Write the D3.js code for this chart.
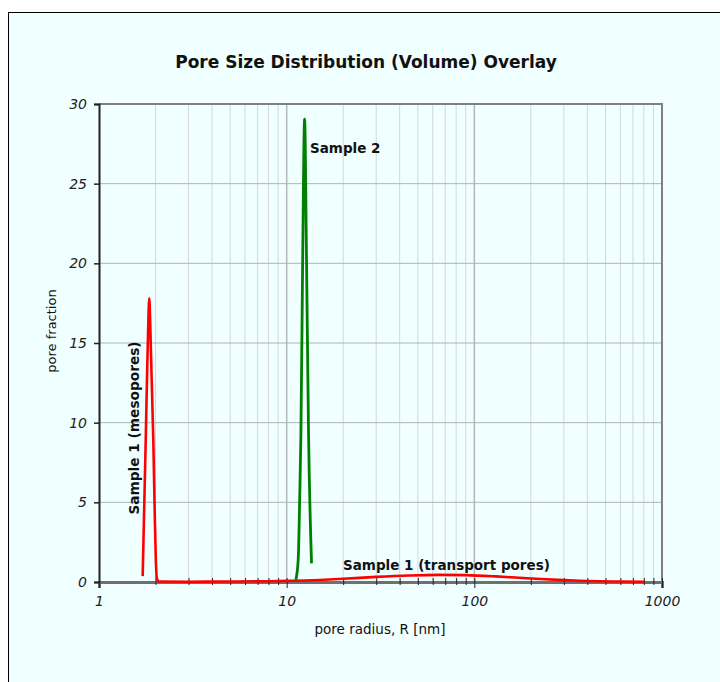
<!DOCTYPE html>
<html>
<head>
<meta charset="utf-8">
<script src="https://cdn.jsdelivr.net/npm/d3@7"></script>
<style>
body { margin: 0; background: #ffffff; }
text { font-family: "DejaVu Sans", Verdana, sans-serif; }
</style>
</head>
<body>
<div id="chart"></div>
<script>
// pore radius [nm] and pore fraction
var sample1R = [1.709, 1.74, 1.774, 1.80, 1.825, 1.853, 1.875, 1.90, 1.947, 1.98, 2.007, 2.037, 2.09, 3, 5, 8, 10, 15, 20, 30, 45, 65, 90, 130, 200, 300, 400, 600, 800];
var sample1V = [0.37, 4.5, 8.9, 12.5, 15.6, 17.8, 16.2, 13.5, 8.9, 4.5, 1.5, 0.2, 0.03, 0.02, 0.03, 0.05, 0.07, 0.13, 0.2, 0.32, 0.41, 0.45, 0.43, 0.35, 0.22, 0.12, 0.06, 0.03, 0.02];
var sample2R = [11.19, 11.52, 11.73, 11.91, 12.16, 12.46, 12.77, 13.08, 13.57];
var sample2V = [0.12, 1.4, 5.15, 9.3, 19.8, 29.05, 19.8, 9.3, 1.17];

var xMajor = [1, 10, 100, 1000];
var xMinor = [2, 3, 4, 5, 6, 7, 8, 9, 20, 30, 40, 50, 60, 70, 80, 90, 200, 300, 400, 500, 600, 700, 800, 900];
var yTicks = [0, 5, 10, 15, 20, 25, 30];

var width = 720, height = 682;
var plot = {left: 99, right: 662, top: 104, bottom: 582};

var svg = d3.select("#chart")
.append("svg")
.attr("width", width)
.attr("height", height);

// outer frame
svg.append("rect")
.attr("x", 8.5).attr("y", 12.5)
.attr("width", 720).attr("height", 680)
.attr("fill", "#f0ffff")
.attr("stroke", "#000").attr("stroke-width", 1);

var x = d3.scaleLog()
.domain([1, 1000])
.range([plot.left, plot.right]);
var y = d3.scaleLinear()
.domain([0, 30])
.range([plot.bottom, plot.top]);

// grid
svg.append("g")
.selectAll("line")
.data(xMinor)
.enter()
.append("line")
.attr("x1", function(d){return x(d)}).attr("x2", function(d){return x(d)})
.attr("y1", plot.top).attr("y2", plot.bottom)
.attr("stroke", "#d4d8d8").attr("stroke-width", 1);

svg.append("g")
.selectAll("line")
.data([10, 100])
.enter()
.append("line")
.attr("x1", function(d){return x(d)}).attr("x2", function(d){return x(d)})
.attr("y1", plot.top).attr("y2", plot.bottom)
.attr("stroke", "#b4b8b8").attr("stroke-width", 1.5);

svg.append("g")
.selectAll("line")
.data(yTicks.slice(1, 6))
.enter()
.append("line")
.attr("x1", plot.left).attr("x2", plot.right)
.attr("y1", function(d){return y(d)}).attr("y2", function(d){return y(d)})
.attr("stroke", "#b0b4b4").attr("stroke-width", 1);

// top and right border
svg.append("path")
.attr("d", "M" + plot.left + "," + plot.top + "H" + plot.right + "V" + plot.bottom)
.attr("fill", "none")
.attr("stroke", "#808080").attr("stroke-width", 2);

// x axis
var xAxis = svg.append("g")
.attr("transform", "translate(0," + plot.bottom + ")")
.call(d3.axisBottom(x).tickValues(xMajor).tickSize(6).tickPadding(8).tickFormat(d3.format("d")));
xAxis.select(".domain").attr("stroke", "#707070").attr("stroke-width", 3);
xAxis.selectAll(".tick line").attr("stroke", "#222").attr("y1", -4);
xAxis.selectAll(".tick text")
.attr("font-size", 14).attr("font-style", "italic").attr("fill", "#222")
.attr("font-family", "DejaVu Sans, Verdana, sans-serif");

var xAxisMinor = svg.append("g")
.attr("transform", "translate(0," + plot.bottom + ")")
.call(d3.axisBottom(x).tickValues(xMinor).tickSize(3).tickFormat(""));
xAxisMinor.select(".domain").remove();
xAxisMinor.selectAll(".tick line").attr("stroke", "#222").attr("y1", -4);

// y axis
var yAxis = svg.append("g")
.attr("transform", "translate(" + plot.left + ",0)")
.call(d3.axisLeft(y).tickValues(yTicks).tickSize(5).tickPadding(7));
yAxis.select(".domain").attr("stroke", "#222").attr("stroke-width", 2);
yAxis.selectAll(".tick line").attr("stroke", "#222").attr("stroke-width", 1.5);
yAxis.selectAll(".tick text")
.attr("font-size", 14).attr("font-style", "italic").attr("fill", "#222")
.attr("font-family", "DejaVu Sans, Verdana, sans-serif");

// curves
var line = d3.line()
.x(function(d){return x(d[0])})
.y(function(d){return y(d[1])})
.curve(d3.curveMonotoneX);

svg.append("path")
.datum(d3.zip(sample1R, sample1V))
.attr("d", line)
.attr("fill", "none")
.attr("stroke", "#ff0000").attr("stroke-width", 2.6);

svg.append("path")
.datum(d3.zip(sample2R, sample2V))
.attr("d", line)
.attr("fill", "none")
.attr("stroke", "#008000").attr("stroke-width", 2.8);

// labels
svg.append("text")
.attr("x", 366).attr("y", 68)
.attr("text-anchor", "middle")
.attr("font-size", 17).attr("font-weight", "bold").attr("fill", "#111")
.text("Pore Size Distribution (Volume) Overlay");

svg.append("text")
.attr("x", 380).attr("y", 634)
.attr("text-anchor", "middle")
.attr("font-size", 13.5).attr("fill", "#111")
.text("pore radius, R [nm]");

svg.append("text")
.attr("transform", "translate(56,331) rotate(-90)")
.attr("text-anchor", "middle")
.attr("font-size", 13).attr("fill", "#111")
.text("pore fraction");

svg.append("text")
.attr("x", 310).attr("y", 153)
.attr("font-size", 13.5).attr("font-weight", "bold").attr("fill", "#111")
.text("Sample 2");

svg.append("text")
.attr("x", 343).attr("y", 570)
.attr("font-size", 13.5).attr("font-weight", "bold").attr("fill", "#111")
.text("Sample 1 (transport pores)");

svg.append("text")
.attr("transform", "translate(139,428) rotate(-90)")
.attr("text-anchor", "middle")
.attr("font-size", 13.7).attr("font-weight", "bold").attr("fill", "#111")
.text("Sample 1 (mesopores)");
</script>
</body>
</html>
